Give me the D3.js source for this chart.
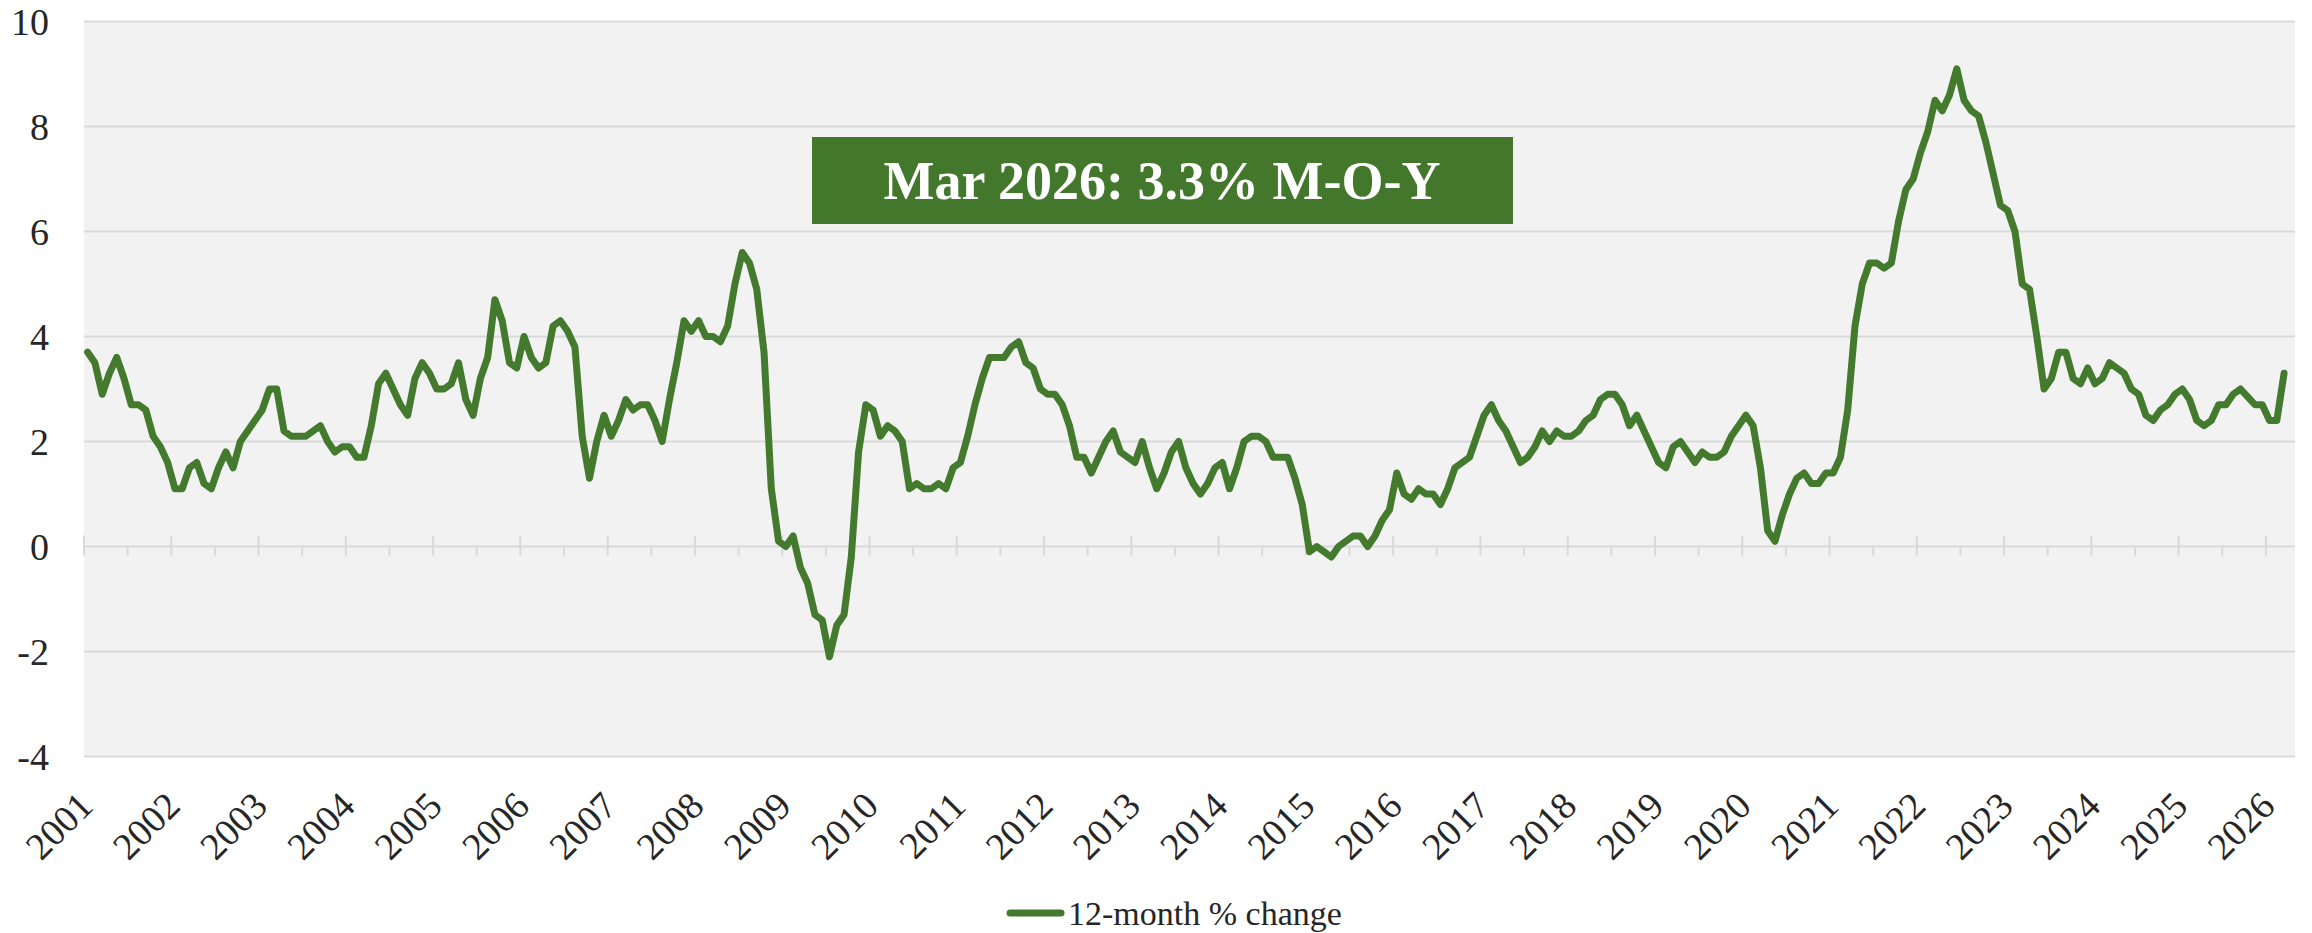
<!DOCTYPE html>
<html>
<head>
<meta charset="utf-8">
<script src="https://cdn.jsdelivr.net/npm/d3@7"></script>
<style>
  body { margin: 0; background: #ffffff; }
  svg { display: block; font-family: "Liberation Serif", "DejaVu Serif", serif; }
</style>
</head>
<body>
<svg class="chart" width="2312" height="933"></svg>
<script>
// 12-month % change, monthly, Jan 2001 .. Mar 2026 (one row per year)
const startYear = 2001;
const monthNames = ["Jan","Feb","Mar","Apr","May","Jun","Jul","Aug","Sep","Oct","Nov","Dec"];
const values = [
  3.7, 3.5, 2.9, 3.3, 3.6, 3.2, 2.7, 2.7, 2.6, 2.1, 1.9, 1.6,   // 2001
  1.1, 1.1, 1.5, 1.6, 1.2, 1.1, 1.5, 1.8, 1.5, 2.0, 2.2, 2.4,   // 2002
  2.6, 3.0, 3.0, 2.2, 2.1, 2.1, 2.1, 2.2, 2.3, 2.0, 1.8, 1.9,   // 2003
  1.9, 1.7, 1.7, 2.3, 3.1, 3.3, 3.0, 2.7, 2.5, 3.2, 3.5, 3.3,   // 2004
  3.0, 3.0, 3.1, 3.5, 2.8, 2.5, 3.2, 3.6, 4.7, 4.3, 3.5, 3.4,   // 2005
  4.0, 3.6, 3.4, 3.5, 4.2, 4.3, 4.1, 3.8, 2.1, 1.3, 2.0, 2.5,   // 2006
  2.1, 2.4, 2.8, 2.6, 2.7, 2.7, 2.4, 2.0, 2.8, 3.5, 4.3, 4.1,   // 2007
  4.3, 4.0, 4.0, 3.9, 4.2, 5.0, 5.6, 5.4, 4.9, 3.7, 1.1, 0.1,   // 2008
  0.0, 0.2, -0.4, -0.7, -1.3, -1.4, -2.1, -1.5, -1.3, -0.2, 1.8, 2.7, // 2009
  2.6, 2.1, 2.3, 2.2, 2.0, 1.1, 1.2, 1.1, 1.1, 1.2, 1.1, 1.5,   // 2010
  1.6, 2.1, 2.7, 3.2, 3.6, 3.6, 3.6, 3.8, 3.9, 3.5, 3.4, 3.0,   // 2011
  2.9, 2.9, 2.7, 2.3, 1.7, 1.7, 1.4, 1.7, 2.0, 2.2, 1.8, 1.7,   // 2012
  1.6, 2.0, 1.5, 1.1, 1.4, 1.8, 2.0, 1.5, 1.2, 1.0, 1.2, 1.5,   // 2013
  1.6, 1.1, 1.5, 2.0, 2.1, 2.1, 2.0, 1.7, 1.7, 1.7, 1.3, 0.8,   // 2014
  -0.1, 0.0, -0.1, -0.2, 0.0, 0.1, 0.2, 0.2, 0.0, 0.2, 0.5, 0.7, // 2015
  1.4, 1.0, 0.9, 1.1, 1.0, 1.0, 0.8, 1.1, 1.5, 1.6, 1.7, 2.1,   // 2016
  2.5, 2.7, 2.4, 2.2, 1.9, 1.6, 1.7, 1.9, 2.2, 2.0, 2.2, 2.1,   // 2017
  2.1, 2.2, 2.4, 2.5, 2.8, 2.9, 2.9, 2.7, 2.3, 2.5, 2.2, 1.9,   // 2018
  1.6, 1.5, 1.9, 2.0, 1.8, 1.6, 1.8, 1.7, 1.7, 1.8, 2.1, 2.3,   // 2019
  2.5, 2.3, 1.5, 0.3, 0.1, 0.6, 1.0, 1.3, 1.4, 1.2, 1.2, 1.4,   // 2020
  1.4, 1.7, 2.6, 4.2, 5.0, 5.4, 5.4, 5.3, 5.4, 6.2, 6.8, 7.0,   // 2021
  7.5, 7.9, 8.5, 8.3, 8.6, 9.1, 8.5, 8.3, 8.2, 7.7, 7.1, 6.5,   // 2022
  6.4, 6.0, 5.0, 4.9, 4.0, 3.0, 3.2, 3.7, 3.7, 3.2, 3.1, 3.4,   // 2023
  3.1, 3.2, 3.5, 3.4, 3.3, 3.0, 2.9, 2.5, 2.4, 2.6, 2.7, 2.9,   // 2024
  3.0, 2.8, 2.4, 2.3, 2.4, 2.7, 2.7, 2.9, 3.0, 2.85, 2.7, 2.7,  // 2025
  2.4, 2.4, 3.3                                                 // 2026
];
const yTicks = [-4, -2, 0, 2, 4, 6, 8, 10];
const yearLabels = d3.range(2001, 2027);
const seriesName = "12-month % change";

const svg = d3.select(".chart");
const green = "#437A2D";

const plotLeft = 84, plotRight = 2295, plotTop = 21.5, plotBottom = 756.5;
const nMonths = values.length + 1; // axis runs to the start of the month after the last point

const x = d3.scaleLinear().domain([0, nMonths]).range([plotLeft, plotRight]);
const y = d3.scaleLinear().domain([-4, 10]).range([plotBottom, plotTop]);

// plot background
svg.append("rect")
  .attr("x", plotLeft).attr("y", plotTop)
  .attr("width", plotRight - plotLeft).attr("height", plotBottom - plotTop)
  .attr("fill", "#F2F2F2");

// horizontal gridlines
svg.append("g")
  .selectAll("line")
  .data(yTicks.filter(d => d !== 0))
  .join("line")
  .attr("x1", plotLeft).attr("x2", plotRight)
  .attr("y1", d => y(d)).attr("y2", d => y(d))
  .attr("stroke", "#D9D9D9")
  .attr("stroke-width", 2);

// y labels
svg.append("g")
  .selectAll("text")
  .data(yTicks)
  .join("text")
  .attr("x", 49)
  .attr("y", d => y(d))
  .attr("dy", "0.35em")
  .attr("text-anchor", "end")
  .attr("font-size", 38)
  .attr("fill", "#262626")
  .text(d => d);

// x axis at zero, with crossing major ticks and outside minor ticks
const axisG = svg.append("g");
axisG.append("line")
  .attr("x1", plotLeft).attr("x2", plotRight)
  .attr("y1", y(0)).attr("y2", y(0))
  .attr("stroke", "#D9D9D9")
  .attr("stroke-width", 2);

const yearIdx = yearLabels.map(yr => (yr - startYear) * 12);
const minorIdx = yearIdx.map(i => i + 6).filter(i => i < nMonths);

axisG.selectAll(".major")
  .data(yearIdx)
  .join("line")
  .attr("class", "major")
  .attr("x1", d => x(d)).attr("x2", d => x(d))
  .attr("y1", y(0) - 11).attr("y2", y(0) + 9)
  .attr("stroke", "#D9D9D9")
  .attr("stroke-width", 2);

axisG.selectAll(".minor")
  .data(minorIdx)
  .join("line")
  .attr("class", "minor")
  .attr("x1", d => x(d)).attr("x2", d => x(d))
  .attr("y1", y(0)).attr("y2", y(0) + 9)
  .attr("stroke", "#D9D9D9")
  .attr("stroke-width", 2);

// year labels, rotated
svg.append("g")
  .selectAll("text")
  .data(yearLabels)
  .join("text")
  .attr("transform", d => `translate(${x((d - startYear) * 12) + 11}, 808) rotate(-45)`)
  .attr("text-anchor", "end")
  .attr("font-size", 38)
  .attr("fill", "#262626")
  .text(d => d);

// the series
const line = d3.line()
  .x((d, i) => x(i + 0.5))
  .y(d => y(d));

svg.append("path")
  .datum(values)
  .attr("fill", "none")
  .attr("stroke", green)
  .attr("stroke-width", 7)
  .attr("stroke-linejoin", "round")
  .attr("stroke-linecap", "round")
  .attr("d", line);

// annotation box for the latest value
const lastIdx = values.length - 1;
const lastLabel = `${monthNames[lastIdx % 12]} ${startYear + Math.floor(lastIdx / 12)}: ${values[lastIdx].toFixed(1)}% M-O-Y`;

svg.append("rect")
  .attr("x", 812).attr("y", 137)
  .attr("width", 701).attr("height", 87)
  .attr("fill", "#42772C");

svg.append("text")
  .attr("x", 1162)
  .attr("y", 199)
  .attr("text-anchor", "middle")
  .attr("font-size", 54)
  .attr("font-weight", "bold")
  .attr("fill", "#ffffff")
  .text(lastLabel);

// legend
const legend = svg.append("g");
legend.append("line")
  .attr("x1", 1010).attr("x2", 1061)
  .attr("y1", 913).attr("y2", 913)
  .attr("stroke", green)
  .attr("stroke-width", 7)
  .attr("stroke-linecap", "round");
legend.append("text")
  .attr("x", 1068)
  .attr("y", 925)
  .attr("font-size", 34)
  .attr("fill", "#262626")
  .text(seriesName);
</script>
</body>
</html>
